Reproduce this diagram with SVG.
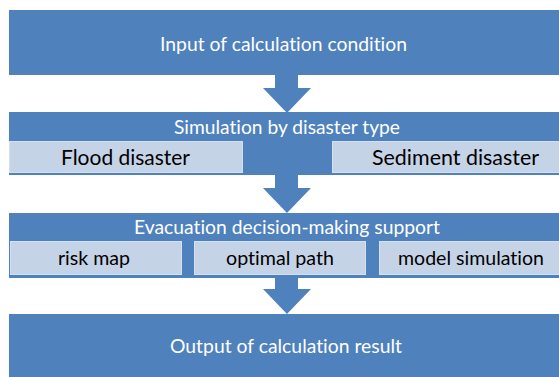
<svg xmlns="http://www.w3.org/2000/svg" width="559" height="377" viewBox="0 0 559 377">
  <style>
    .main { fill: #4F81BD; }
    .sub { fill: #C5D3E7; stroke: #D5E0EF; stroke-width: 1; }
    .arrow { fill: #4F81BD; }
    .t { font-family: Lato, "Open Sans", "Liberation Sans", sans-serif; text-anchor: middle; font-variant-ligatures: none; font-feature-settings: "liga" 0, "clig" 0; }
    .w { fill: #FFFFFF; font-size: 20px; }
    .k { fill: #000000; font-size: 20px; }
    .kb { fill: #000000; font-size: 22px; }
  </style>
  <rect width="559" height="377" fill="#FFFFFF"/>
  <g id="input">
    <rect class="main" x="9" y="10" width="560" height="65"/>
    <text class="t w" x="283.5" y="51" textLength="247" lengthAdjust="spacingAndGlyphs">Input of calculation condition</text>
  </g>
  <g id="simulation">
    <rect class="main" x="9" y="112" width="560" height="63"/>
    <text class="t w" x="287" y="134" textLength="226" lengthAdjust="spacingAndGlyphs">Simulation by disaster type</text>
  </g>
  <g id="flood">
    <rect class="sub" x="9.5" y="141.5" width="233" height="31"/>
    <text class="t kb" x="125.5" y="165" textLength="129" lengthAdjust="spacingAndGlyphs">Flood disaster</text>
  </g>
  <g id="sediment">
    <rect class="sub" x="332.5" y="141.5" width="240" height="31"/>
    <text class="t kb" x="455.5" y="165" textLength="167" lengthAdjust="spacingAndGlyphs">Sediment disaster</text>
  </g>
  <g id="evacuation">
    <rect class="main" x="9" y="213" width="560" height="65"/>
    <text class="t w" x="287" y="234" textLength="306" lengthAdjust="spacingAndGlyphs">Evacuation decision-making support</text>
  </g>
  <g id="riskmap">
    <rect class="sub" x="10.5" y="241.5" width="171" height="33"/>
    <text class="t k" x="94" y="265" textLength="72" lengthAdjust="spacingAndGlyphs">risk map</text>
  </g>
  <g id="optimalpath">
    <rect class="sub" x="194.5" y="241.5" width="171" height="33"/>
    <text class="t k" x="280" y="265" textLength="108" lengthAdjust="spacingAndGlyphs">optimal path</text>
  </g>
  <g id="modelsimulation">
    <rect class="sub" x="379.5" y="241.5" width="190" height="33"/>
    <text class="t k" x="471" y="265" textLength="146" lengthAdjust="spacingAndGlyphs">model simulation</text>
  </g>
  <g id="output">
    <rect class="main" x="9" y="314" width="560" height="70"/>
    <text class="t w" x="286" y="353" textLength="232" lengthAdjust="spacingAndGlyphs">Output of calculation result</text>
  </g>
  <g id="connectors">
    <polygon class="arrow" points="275,75 298,75 298,88 311,88 287,113 263,88 275,88"/>
    <polygon class="arrow" points="275,175 298,175 298,188 311,188 287,213 263,188 275,188"/>
    <polygon class="arrow" points="275,278 298,278 298,289 311,289 287,314 263,289 275,289"/>
  </g>
</svg>
